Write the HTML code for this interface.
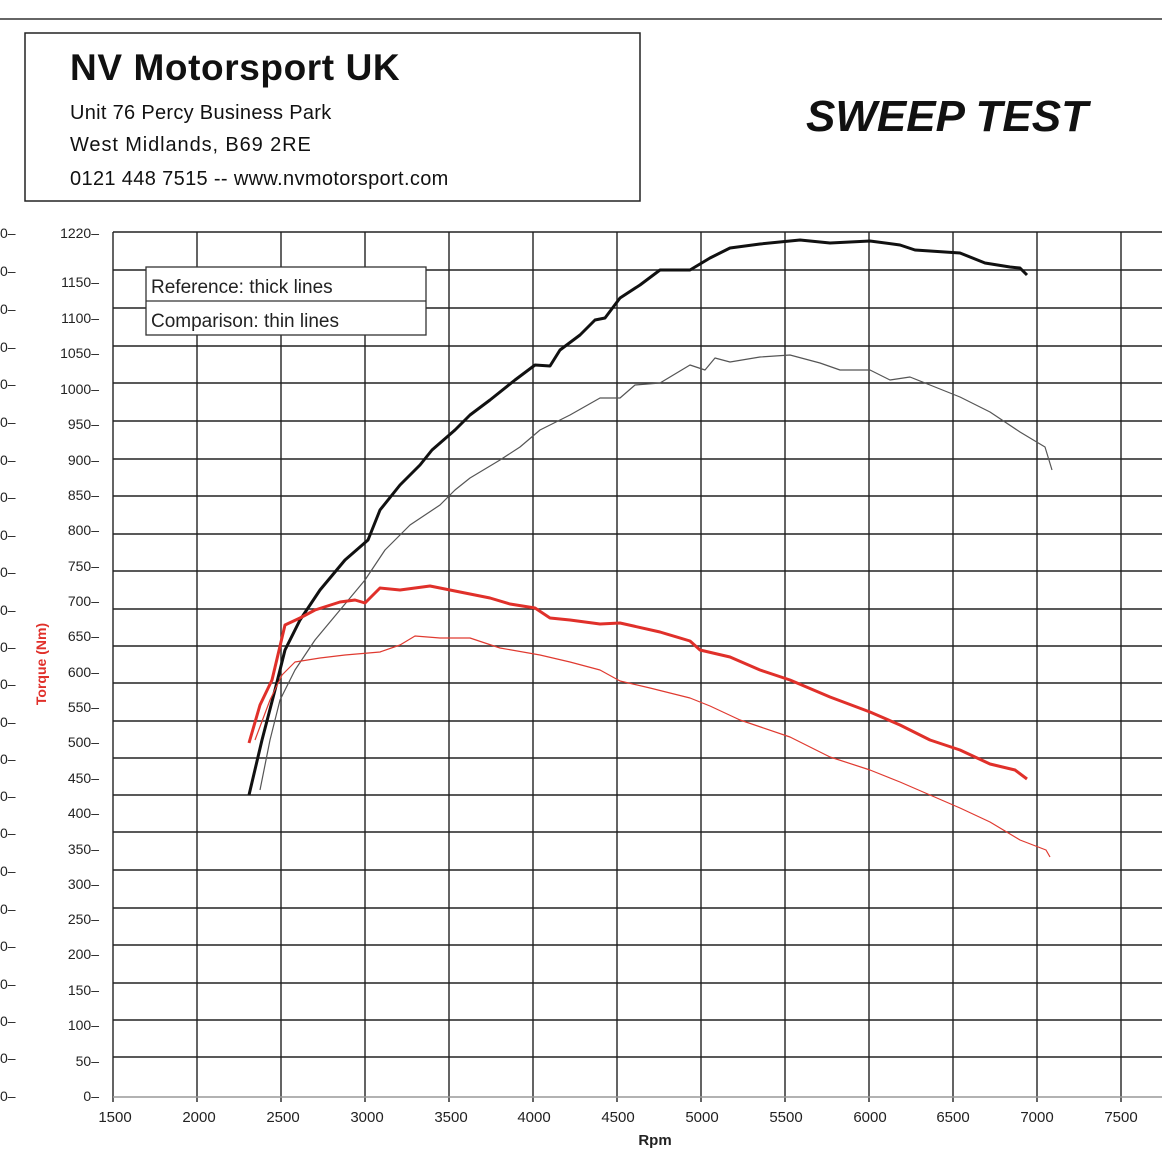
<!DOCTYPE html>
<html><head><meta charset="utf-8"><style>
body{margin:0;background:#fff;width:1162px;height:1162px;overflow:hidden}
svg{display:block}
</style></head><body>
<svg width="1162" height="1162" xmlns="http://www.w3.org/2000/svg" font-family="Liberation Sans, sans-serif">
<line x1="0" y1="19" x2="1162" y2="19" stroke="#333" stroke-width="1.5"/>
<rect x="25" y="33" width="615" height="168" fill="none" stroke="#222" stroke-width="1.5"/>
<text x="70" y="80" font-size="37" font-weight="bold" fill="#111" letter-spacing="0.6">NV Motorsport UK</text>
<text x="70" y="119" font-size="20" fill="#111" letter-spacing="0.3">Unit 76 Percy Business Park</text>
<text x="70" y="151" font-size="20" fill="#111" letter-spacing="0.9">West Midlands, B69 2RE</text>
<text x="70" y="185" font-size="20" fill="#111" letter-spacing="0.35">0121 448 7515 -- www.nvmotorsport.com</text>
<text x="806" y="131" font-size="44" font-weight="bold" font-style="italic" fill="#111">SWEEP TEST</text>
<g stroke="#222" stroke-width="1.4">
<line x1="113" y1="232" x2="1162" y2="232"/><line x1="113" y1="270" x2="1162" y2="270"/><line x1="113" y1="308" x2="1162" y2="308"/><line x1="113" y1="346" x2="1162" y2="346"/><line x1="113" y1="383" x2="1162" y2="383"/><line x1="113" y1="421" x2="1162" y2="421"/><line x1="113" y1="459" x2="1162" y2="459"/><line x1="113" y1="496" x2="1162" y2="496"/><line x1="113" y1="534" x2="1162" y2="534"/><line x1="113" y1="571" x2="1162" y2="571"/><line x1="113" y1="609" x2="1162" y2="609"/><line x1="113" y1="646" x2="1162" y2="646"/><line x1="113" y1="683" x2="1162" y2="683"/><line x1="113" y1="721" x2="1162" y2="721"/><line x1="113" y1="758" x2="1162" y2="758"/><line x1="113" y1="795" x2="1162" y2="795"/><line x1="113" y1="832" x2="1162" y2="832"/><line x1="113" y1="870" x2="1162" y2="870"/><line x1="113" y1="908" x2="1162" y2="908"/><line x1="113" y1="945" x2="1162" y2="945"/><line x1="113" y1="983" x2="1162" y2="983"/><line x1="113" y1="1020" x2="1162" y2="1020"/><line x1="113" y1="1057" x2="1162" y2="1057"/>
<line x1="197" y1="232" x2="197" y2="1102"/><line x1="281" y1="232" x2="281" y2="1102"/><line x1="365" y1="232" x2="365" y2="1102"/><line x1="449" y1="232" x2="449" y2="1102"/><line x1="533" y1="232" x2="533" y2="1102"/><line x1="617" y1="232" x2="617" y2="1102"/><line x1="701" y1="232" x2="701" y2="1102"/><line x1="785" y1="232" x2="785" y2="1102"/><line x1="869" y1="232" x2="869" y2="1102"/><line x1="953" y1="232" x2="953" y2="1102"/><line x1="1037" y1="232" x2="1037" y2="1102"/><line x1="1121" y1="232" x2="1121" y2="1102"/>
<line x1="113" y1="232" x2="113" y2="1102"/>
<line x1="113" y1="1097" x2="1162" y2="1097" stroke="#999"/>
</g>
<g font-size="14" fill="#222" text-anchor="end">
<text x="99" y="238">1220–</text><text x="99" y="287">1150–</text><text x="99" y="323">1100–</text><text x="99" y="358">1050–</text><text x="99" y="394">1000–</text><text x="99" y="429">950–</text><text x="99" y="465">900–</text><text x="99" y="500">850–</text><text x="99" y="535">800–</text><text x="99" y="571">750–</text><text x="99" y="606">700–</text><text x="99" y="641">650–</text><text x="99" y="677">600–</text><text x="99" y="712">550–</text><text x="99" y="747">500–</text><text x="99" y="783">450–</text><text x="99" y="818">400–</text><text x="99" y="854">350–</text><text x="99" y="889">300–</text><text x="99" y="924">250–</text><text x="99" y="959">200–</text><text x="99" y="995">150–</text><text x="99" y="1030">100–</text><text x="99" y="1066">50–</text><text x="99" y="1101">0–</text>
</g>
<g font-size="14" fill="#222">
<text x="0" y="238">0–</text><text x="0" y="276">0–</text><text x="0" y="314">0–</text><text x="0" y="352">0–</text><text x="0" y="389">0–</text><text x="0" y="427">0–</text><text x="0" y="465">0–</text><text x="0" y="502">0–</text><text x="0" y="540">0–</text><text x="0" y="577">0–</text><text x="0" y="615">0–</text><text x="0" y="652">0–</text><text x="0" y="689">0–</text><text x="0" y="727">0–</text><text x="0" y="764">0–</text><text x="0" y="801">0–</text><text x="0" y="838">0–</text><text x="0" y="876">0–</text><text x="0" y="914">0–</text><text x="0" y="951">0–</text><text x="0" y="989">0–</text><text x="0" y="1026">0–</text><text x="0" y="1063">0–</text><text x="0" y="1101">0–</text>
</g>
<g font-size="15" fill="#222" text-anchor="middle">
<text x="115" y="1122">1500</text><text x="199" y="1122">2000</text><text x="283" y="1122">2500</text><text x="367" y="1122">3000</text><text x="451" y="1122">3500</text><text x="534" y="1122">4000</text><text x="618" y="1122">4500</text><text x="702" y="1122">5000</text><text x="786" y="1122">5500</text><text x="870" y="1122">6000</text><text x="953" y="1122">6500</text><text x="1037" y="1122">7000</text><text x="1121" y="1122">7500</text>
</g>
<text x="655" y="1145" font-size="15" font-weight="bold" fill="#222" text-anchor="middle">Rpm</text>
<text transform="translate(46,664) rotate(-90)" font-size="14" font-weight="bold" fill="#e0302a" text-anchor="middle">Torque (Nm)</text>
<rect x="146" y="267" width="280" height="68" fill="#fff" stroke="#333" stroke-width="1.3"/>
<line x1="146" y1="301" x2="426" y2="301" stroke="#333" stroke-width="1.3"/>
<text x="151" y="293" font-size="19" fill="#222">Reference: thick lines</text>
<text x="151" y="327" font-size="19" fill="#222">Comparison: thin lines</text>
<g fill="none" stroke-linejoin="round">
<polyline stroke="#555" stroke-width="1.2" points="260,790 270,740 280,700 295,670 315,640 340,610 365,580 385,550 410,525 440,505 455,490 470,478 500,460 520,447 540,430 570,415 600,398 620,398 635,385 660,383 690,365 705,370 715,358 730,362 760,357 790,355 820,363 840,370 870,370 890,380 910,377 930,385 960,397 990,412 1020,432 1045,447 1052,470"/>
<polyline stroke="#111" stroke-width="3" points="249,795 262,740 275,690 285,650 300,620 320,590 345,560 368,540 380,510 400,485 420,465 432,450 455,430 470,415 490,400 515,380 535,365 550,366 560,350 580,335 595,320 605,318 620,298 640,285 660,270 690,270 710,258 730,248 760,244 800,240 830,243 870,241 900,245 915,250 960,253 985,263 1010,267 1020,268 1027,275"/>
<polyline stroke="#e03a30" stroke-width="1.2" points="255,740 270,700 282,675 295,662 320,658 345,655 380,652 400,645 415,636 440,638 470,638 500,648 540,655 570,662 600,670 620,681 650,688 690,698 710,706 740,720 790,737 830,757 870,770 900,782 930,795 960,808 990,822 1020,840 1046,850 1050,857"/>
<polyline stroke="#e0302a" stroke-width="3" points="249,743 260,705 272,680 285,625 300,618 315,610 340,602 355,600 365,603 380,588 400,590 430,586 460,592 490,598 510,604 535,608 550,618 570,620 600,624 620,623 660,632 690,641 700,650 730,657 760,670 790,680 830,697 870,712 900,725 930,740 960,750 990,764 1015,770 1027,779"/>
</g>
</svg>
</body></html>
